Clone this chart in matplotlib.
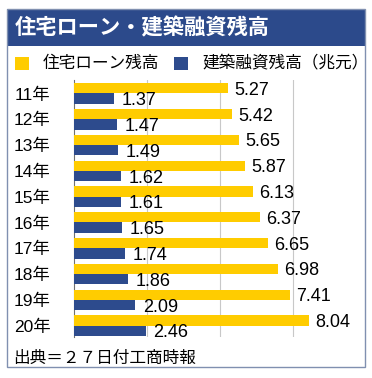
import matplotlib
matplotlib.use("Agg")
import matplotlib.pyplot as plt
from matplotlib.patches import Rectangle

title = "住宅ローン・建築融資残高"
legend_labels = ["住宅ローン残高", "建築融資残高（兆元）"]
years = ["11年", "12年", "13年", "14年", "15年", "16年", "17年", "18年", "19年", "20年"]
housing = [5.27, 5.42, 5.65, 5.87, 6.13, 6.37, 6.65, 6.98, 7.41, 8.04]
construction = [1.37, 1.47, 1.49, 1.62, 1.61, 1.65, 1.74, 1.86, 2.09, 2.46]
source = "出典＝２７日付工商時報"

YELLOW = "#FFCC00"
BLUE = "#2D4B8D"
BAND = "#2C4A8B"
BORDER = "#8090B0"
CJK = "Noto Sans CJK JP"
NUM = ["Liberation Sans", "Noto Sans CJK JP"]

W, H = 372, 378
fig = plt.figure(figsize=(W / 100, H / 100), dpi=100)
fig.patch.set_facecolor("white")

def fx(px):
    return px / W

def fy(py):
    return 1 - py / H

# outer border and title band
fig.patches.append(Rectangle((fx(7), fy(367)), fx(365) - fx(7), fy(9) - fy(367),
                             transform=fig.transFigure, fill=False,
                             edgecolor=BORDER, linewidth=1.0, zorder=5))
fig.patches.append(Rectangle((fx(7), fy(46)), fx(365) - fx(7), fy(9) - fy(46),
                             transform=fig.transFigure, facecolor=BAND,
                             edgecolor="none", zorder=4))
fig.text(fx(15), fy(28), title, color="white", fontsize=15.3, fontweight="bold",
         family=CJK, va="center", ha="left", zorder=6)

# legend
fig.patches.append(Rectangle((fx(15), fy(70)), fx(14), 13 / H,
                             transform=fig.transFigure, facecolor=YELLOW, edgecolor="none"))
fig.text(fx(43), fy(63), legend_labels[0], fontsize=12, family=CJK, va="center", ha="left")
fig.patches.append(Rectangle((fx(174), fy(70)), fx(14), 13 / H,
                             transform=fig.transFigure, facecolor=BLUE, edgecolor="none"))
fig.text(fx(202), fy(63), legend_labels[1], fontsize=12, family=CJK, va="center", ha="left")

# footer
fig.text(fx(13), fy(358), source, fontsize=12, family=CJK, va="center", ha="left")

# axes
ax = fig.add_axes([fx(74), fy(337), fx(366) - fx(74), fy(80) - fy(337)])
ax.set_facecolor("none")
pos = list(range(len(years)))
h = 0.4
ax.barh([p - h / 2 for p in pos], housing, height=h, color=YELLOW, zorder=3)
ax.barh([p + h / 2 for p in pos], construction, height=h, color=BLUE, zorder=3)

for p, v in zip(pos, housing):
    ax.annotate(f"{v:.2f}", (v, p - h / 2), xytext=(4.5, -1.5), textcoords="offset points",
                va="center", ha="left", fontsize=13, family=NUM, zorder=4)
for p, v in zip(pos, construction):
    ax.annotate(f"{v:.2f}", (v, p + h / 2), xytext=(5.5, -1.5), textcoords="offset points",
                va="center", ha="left", fontsize=13, family=NUM, zorder=4)

ax.set_xlim(0, 10)
ax.set_ylim(9.44, -0.52)
ax.set_xticks([2.5, 5, 7.5])
ax.tick_params(axis="x", length=0, labelbottom=False)
ax.grid(axis="x", color="#C8C8C8", linewidth=0.8, zorder=0)
ax.set_yticks(pos)
ax.set_yticklabels(years, fontsize=12.5, family=NUM)
ax.tick_params(axis="y", length=0, pad=17)
for s in ["top", "right", "bottom"]:
    ax.spines[s].set_visible(False)
ax.spines["left"].set_color("#707070")
ax.spines["left"].set_linewidth(0.8)

fig.savefig("out.png", dpi=100, facecolor="white")
